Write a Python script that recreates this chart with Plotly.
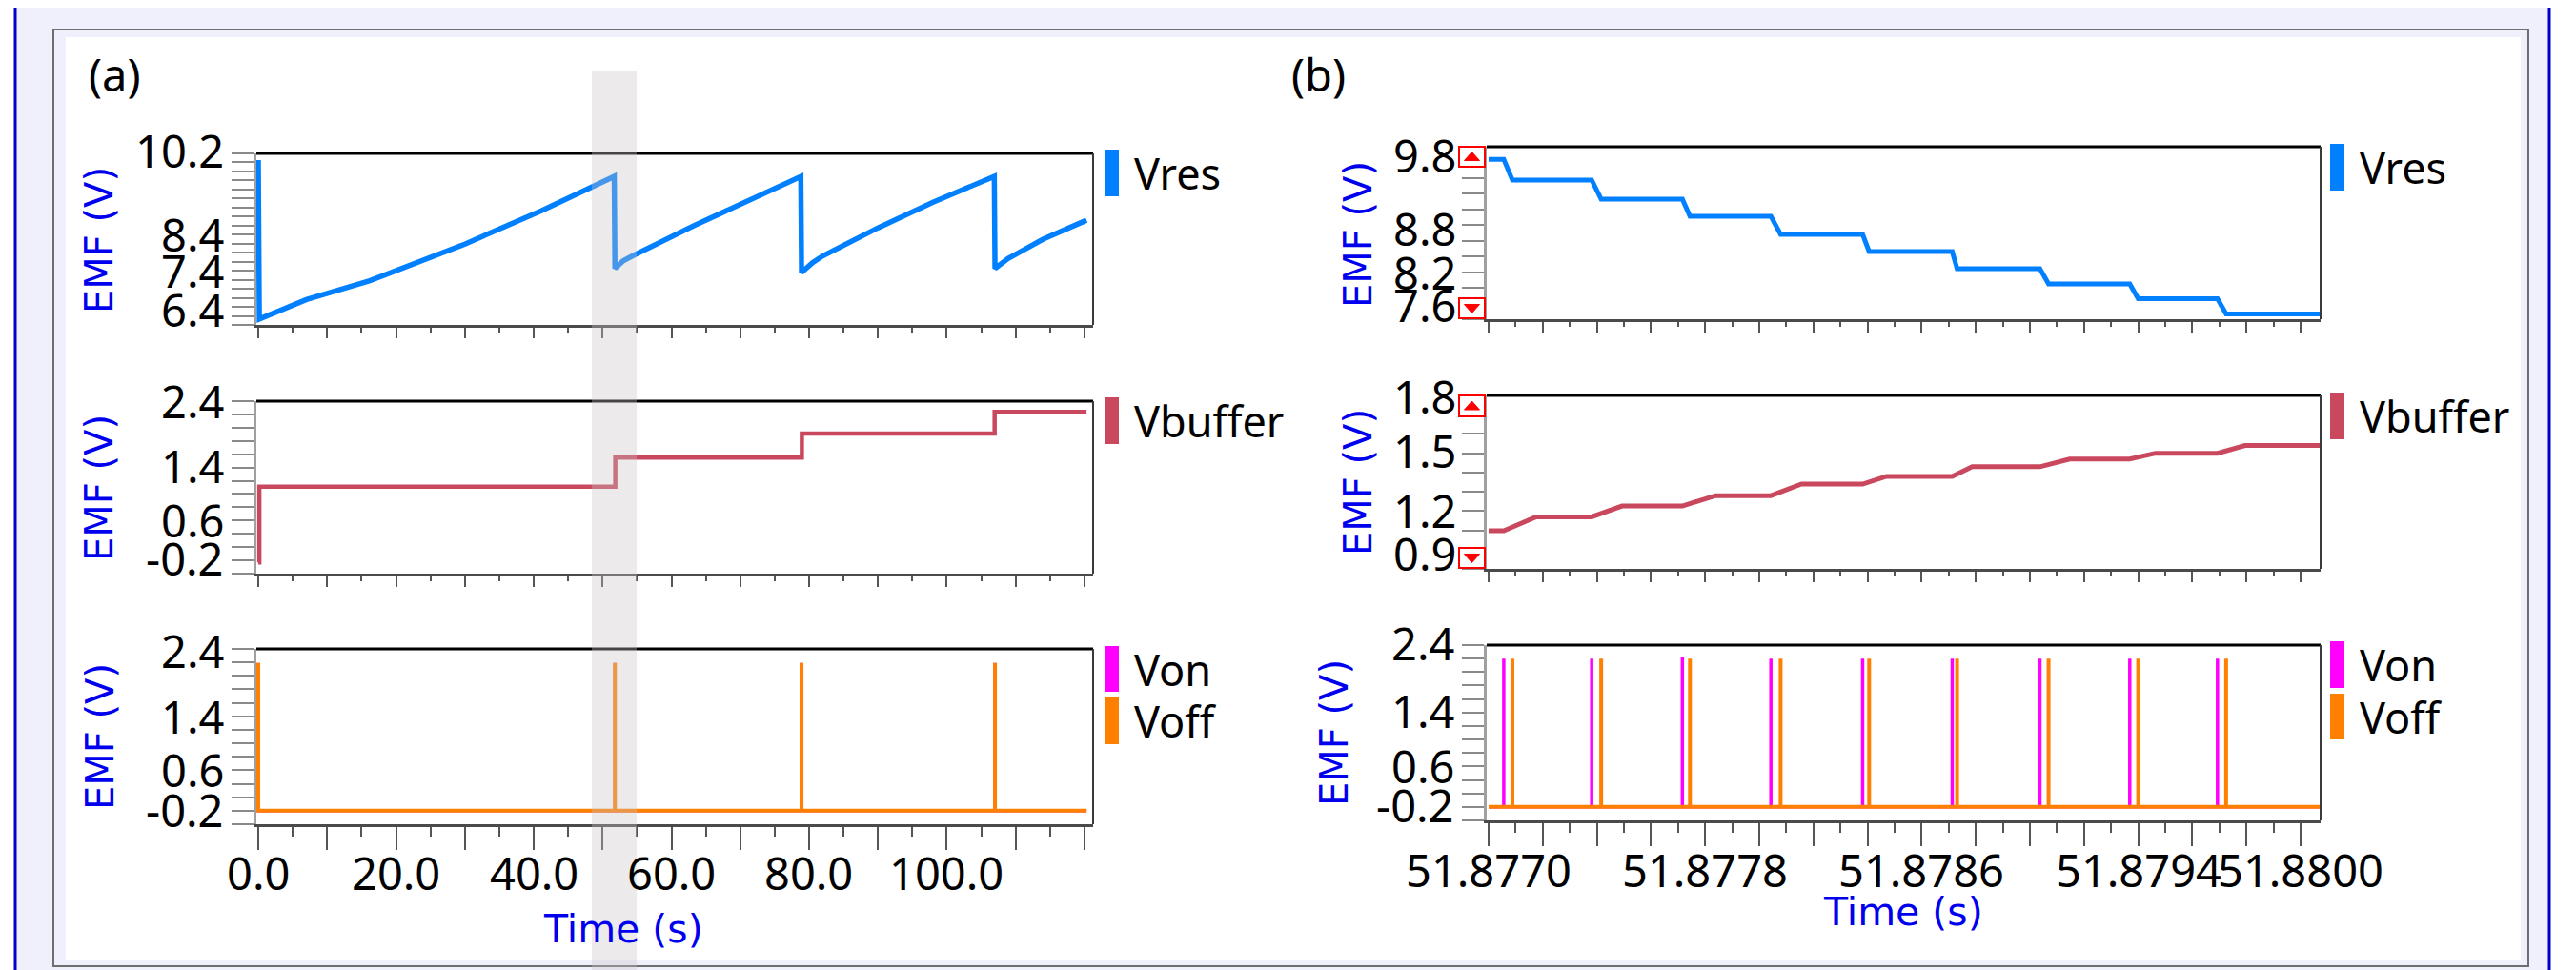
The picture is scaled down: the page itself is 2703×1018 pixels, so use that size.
import plotly.graph_objects as go

W, H = 2703, 1018

# ---------------- DATA ----------------
# Panel (a): whole record (time in s)
t_vres_a = [0.0, 0.15, 7.0, 16.2, 30.0, 41.1, 51.7, 51.8, 53.0, 54.5, 63.3, 71.0, 78.8,
            78.9, 80.5, 82.0, 90.0, 98.0, 106.9, 107.0, 108.9, 114.0, 120.3]
v_vres_a = [10.05, 6.53, 6.96, 7.38, 8.19, 8.93, 9.69, 7.65, 7.82, 7.94, 8.60, 9.15, 9.69,
            7.56, 7.78, 7.93, 8.55, 9.12, 9.69, 7.65, 7.87, 8.30, 8.72]

t_vbuf_a = [0.0, 0.15, 51.85, 78.95, 106.95, 120.3]
v_vbuf_a = [-0.03, 1.11, 1.55, 1.91, 2.24, 2.24]

pulse_t_a = [0.0, 51.8, 78.9, 107.0]
pulse_v_a = [2.19, 2.19, 2.19, 2.19]
t_start_a, t_end_a = 0.0, 120.3
base_level = 0.0

# Panel (b): zoom around the first switching event (time in s)
von_t_b = [51.877056, 51.877381, 51.877716, 51.878043, 51.878382, 51.878713, 51.879037, 51.879369, 51.879693]
von_v_b = [2.2, 2.2, 2.23, 2.2, 2.2, 2.2, 2.2, 2.2, 2.2]
voff_t_b = [51.877088, 51.877416, 51.877744, 51.878079, 51.878406, 51.878731, 51.879069, 51.879400, 51.879725]
voff_v_b = [2.2, 2.2, 2.2, 2.2, 2.2, 2.2, 2.2, 2.2, 2.2]
t_start_b, t_end_b = 51.877000, 51.880074

vres_levels_b = [9.64, 9.375, 9.131, 8.913, 8.682, 8.463, 8.244, 8.050, 7.861, 7.667]
vbuf_levels_b = [1.098, 1.17, 1.226, 1.28, 1.34, 1.38, 1.43, 1.47, 1.50, 1.54]
vbuf_ramp_end_b = [51.877176, 51.877493, 51.877839, 51.878156, 51.878470, 51.878787, 51.879147, 51.879464, 51.879795]

# axis ticks / labels
xt_a_vals = [0, 10, 20, 30, 40, 50, 60, 70, 80, 90, 100, 110, 120]
xl_a = [0.0, 20.0, 40.0, 60.0, 80.0, 100.0]
xt_b_vals = [51.8770, 51.8772, 51.8774, 51.8776, 51.8778, 51.8780, 51.8782, 51.8784,
             51.8786, 51.8788, 51.8790, 51.8792, 51.8794, 51.8796, 51.8798, 51.8800]
xl_b = [51.8770, 51.8778, 51.8786, 51.8794, 51.8800]

yl_a1 = [10.2, 8.4, 7.4, 6.4]
yl_a2 = [2.4, 1.4, 0.6, -0.2]
yl_a3 = [2.4, 1.4, 0.6, -0.2]
yl_b1 = [9.8, 8.8, 8.2, 7.6]
yl_b2 = [1.8, 1.5, 1.2, 0.9]
yl_b3 = [2.4, 1.4, 0.6, -0.2]

C_VRES = "#0080FF"
C_VBUF = "#C9485E"
C_VON = "#FF00FF"
C_VOFF = "#FF8000"
C_BLUE_TXT = "#0000EE"


def px(x):
    return x / W


def py(y):
    return 1 - y / H


def pulses(times, peaks, t0, t1, base):
    xs, ys = [t0], [base]
    for t, p in zip(times, peaks):
        xs += [t, t, t]
        ys += [base, p, base]
    xs.append(t1)
    ys.append(base)
    return xs, ys


def staircase(levels, t_from, t_to, t0, t1):
    xs, ys = [t0], [levels[0]]
    for i in range(len(t_from)):
        xs += [t_from[i], t_to[i]]
        ys += [levels[i], levels[i + 1]]
    xs.append(t1)
    ys.append(levels[-1])
    return xs, ys


fig = go.Figure()

TICKFONT = dict(family="Noto Sans", size=47, color="black")
subs = [
    dict(i=1, xd=(261, 1139), yd=(153, 333), xr=(-0.28, 121.25), yr=(6.4, 10.2), dt=0.2,
         yl=yl_a1, ys=[3, 0, 10, 16], lx=229, bottom=False, panel="a"),
    dict(i=2, xd=(261, 1139), yd=(413, 594), xr=(-0.28, 121.25), yr=(-0.2, 2.4), dt=0.2,
         yl=yl_a2, ys=[0, 2, 0, 16], lx=229, bottom=False, panel="a"),
    dict(i=3, xd=(261, 1139), yd=(673, 857), xr=(-0.28, 121.25), yr=(-0.2, 2.4), dt=0.2,
         yl=yl_a3, ys=[-2, 0, 0, 15], lx=229, bottom=True, panel="a"),
    dict(i=4, xd=(1552, 2427), yd=(146, 327), xr=(51.876993, 51.880074), yr=(7.6, 9.8), dt=0.2,
         yl=yl_b1, ys=[-9, -4, 0, 15], lx=1522, bottom=False, panel="b"),
    dict(i=5, xd=(1552, 2427), yd=(407, 589), xr=(51.876993, 51.880074), yr=(0.9, 1.8), dt=0.1,
         yl=yl_b2, ys=[-1, 3, 0, 16], lx=1522, bottom=False, panel="b"),
    dict(i=6, xd=(1552, 2427), yd=(669, 853), xr=(51.876993, 51.880074), yr=(-0.2, 2.4), dt=0.2,
         yl=yl_b3, ys=[2, 2, 0, 16], lx=1520, bottom=True, panel="b"),
]

annotations = []
shapes = []

for s in subs:
    i = s["i"]
    xk = "xaxis" if i == 1 else f"xaxis{i}"
    yk = "yaxis" if i == 1 else f"yaxis{i}"
    xref = "x" if i == 1 else f"x{i}"
    yref = "y" if i == 1 else f"y{i}"
    big = s["bottom"]
    if s["panel"] == "a":
        tv, mdt, mt0, xl, xfmt, lab_y = xt_a_vals, 5, 0, xl_a, "{:.1f}", 908
    else:
        tv, mdt, mt0, xl, xfmt, lab_y = xt_b_vals, 0.0001, 51.877, xl_b, "{:.4f}", 905
    fig.layout[xk] = dict(
        domain=[px(s["xd"][0]), px(s["xd"][1])], range=list(s["xr"]), anchor=yref,
        showgrid=False, zeroline=False, showline=True, linecolor="#4A4A4A", linewidth=3,
        ticks="outside", ticklen=24 if big else 11, tickwidth=2, tickcolor="#555555",
        tickmode="array", tickvals=tv, showticklabels=False,
        minor=dict(ticks="outside", ticklen=10 if big else 5, tickwidth=2, tickcolor="#555555",
                   dtick=mdt, tick0=mt0, showgrid=False),
        automargin=False, fixedrange=True,
    )
    fig.layout[yk] = dict(
        domain=[py(s["yd"][1]), py(s["yd"][0])], range=list(s["yr"]), anchor=xref,
        showgrid=False, zeroline=False, showline=True, linecolor="#A0A0A0", linewidth=3,
        ticks="outside", ticklen=23, tickwidth=2, tickcolor="#8A8A8A",
        tickmode="linear", tick0=s["yr"][0], dtick=s["dt"], showticklabels=False,
        automargin=False, fixedrange=True,
    )
    shapes.append(dict(type="line", xref=f"{xref} domain", yref=f"{yref} domain",
                       x0=0, x1=1, y0=1, y1=1, line=dict(color="black", width=3), layer="above"))
    shapes.append(dict(type="line", xref=f"{xref} domain", yref=f"{yref} domain",
                       x0=1, x1=1, y0=0, y1=1, line=dict(color="#3A3A3A", width=2), layer="above"))
    # y tick labels (placed on the axis scale)
    for val, sh in zip(s["yl"], s["ys"]):
        annotations.append(dict(xref="paper", yref=yref, x=px(s["lx"]), y=val,
                                xanchor="right", yanchor="middle", yshift=sh, showarrow=False,
                                text=f"{val:.1f}", font=TICKFONT))
    # x tick labels (bottom plot only)
    if big:
        for val in xl:
            annotations.append(dict(xref=xref, yref="paper", x=val, y=py(lab_y),
                                    xanchor="center", yanchor="middle", showarrow=False,
                                    text=xfmt.format(val), font=TICKFONT))

def add(x, y, color, width, xa, ya, shape="linear"):
    fig.add_trace(go.Scatter(x=x, y=y, mode="lines", xaxis=xa, yaxis=ya, hoverinfo="skip",
                             showlegend=False, line=dict(color=color, width=width, shape=shape)))

add(t_vres_a, v_vres_a, C_VRES, 5.5, "x", "y")
add(t_vbuf_a, v_vbuf_a, C_VBUF, 4.5, "x2", "y2", shape="hv")
xo, yo = pulses(pulse_t_a, pulse_v_a, t_start_a, t_end_a, base_level)
add(xo, yo, C_VON, 3.5, "x3", "y3")
add(xo, yo, C_VOFF, 4, "x3", "y3")

xs, ys = staircase(vres_levels_b, von_t_b, voff_t_b, t_start_b, t_end_b)
add(xs, ys, C_VRES, 5, "x4", "y4")
xs, ys = staircase(vbuf_levels_b, von_t_b, vbuf_ramp_end_b, t_start_b, t_end_b)
add(xs, ys, C_VBUF, 5, "x5", "y5")
xs, ys = pulses(von_t_b, von_v_b, t_start_b, t_end_b, base_level)
add(xs, ys, C_VON, 3.5, "x6", "y6")
xs, ys = pulses(voff_t_b, voff_v_b, t_start_b, t_end_b, base_level)
add(xs, ys, C_VOFF, 4, "x6", "y6")

bg = [
    dict(type="rect", xref="paper", yref="paper", x0=px(9), x1=px(2666), y0=py(1015), y1=py(0),
         fillcolor="#F0F0FC", line=dict(width=0), layer="below"),
    dict(type="rect", xref="paper", yref="paper", x0=px(48), x1=px(2645), y0=py(1006), y1=py(23),
         fillcolor="#F0F0FC", line=dict(color="#6E6E6E", width=2), layer="below"),
    dict(type="rect", xref="paper", yref="paper", x0=px(61), x1=px(2637), y0=py(1000), y1=py(31),
         fillcolor="white", line=dict(width=0), layer="below"),
    dict(type="line", xref="paper", yref="paper", x0=px(8), x1=px(8), y0=py(1016), y1=py(0),
         line=dict(color="#0000C8", width=3), layer="below"),
    dict(type="line", xref="paper", yref="paper", x0=px(2667), x1=px(2667), y0=py(1016), y1=py(0),
         line=dict(color="#0000C8", width=3), layer="below"),
    dict(type="line", xref="paper", yref="paper", x0=px(8), x1=px(2667), y0=py(1015), y1=py(1015),
         line=dict(color="#0000C8", width=3), layer="below"),
]
shapes = bg + shapes

def limit_box(x0, y0, x1, y1, up):
    out = [dict(type="rect", xref="paper", yref="paper", x0=px(x0), x1=px(x1), y0=py(y1), y1=py(y0),
                fillcolor="white", line=dict(color="#FF0000", width=2), layer="above")]
    cx, cy = (x0 + x1) / 2, (y0 + y1) / 2
    if up:
        pts = [(cx - 8, cy + 4), (cx + 8, cy + 4), (cx, cy - 5)]
    else:
        pts = [(cx - 8, cy - 4), (cx + 8, cy - 4), (cx, cy + 5)]
    path = "M " + " L ".join(f"{px(a):.5f},{py(b):.5f}" for a, b in pts) + " Z"
    out.append(dict(type="path", xref="paper", yref="paper", path=path,
                    fillcolor="#FF0000", line=dict(color="#FF0000", width=1), layer="above"))
    return out

shapes += limit_box(1523, 146, 1550, 167, True)
shapes += limit_box(1523, 305, 1550, 326, False)
shapes += limit_box(1523, 407, 1550, 429, True)
shapes += limit_box(1523, 567, 1550, 588, False)

shapes.append(dict(type="rect", xref="x", yref="paper", x0=48.44, x1=54.95, y0=0, y1=py(66),
                   fillcolor="#C8C3C3", opacity=0.35, line=dict(width=0), layer="above"))

legend_items = [
    ("Vres", C_VRES, 1151, 149, 198),
    ("Vbuffer", C_VBUF, 1151, 409, 458),
    ("Von", C_VON, 1151, 670, 718),
    ("Voff", C_VOFF, 1151, 724, 773),
    ("Vres", C_VRES, 2437, 143, 192),
    ("Vbuffer", C_VBUF, 2437, 404, 453),
    ("Von", C_VON, 2437, 665, 714),
    ("Voff", C_VOFF, 2437, 720, 768),
]
for txt, col, bx, bt, bb in legend_items:
    shapes.append(dict(type="rect", xref="paper", yref="paper", x0=px(bx), x1=px(bx + 15),
                       y0=py(bb), y1=py(bt), fillcolor=col, line=dict(width=0), layer="above"))
    annotations.append(dict(xref="paper", yref="paper", x=px(bx + 29), y=py((bt + bb) / 2),
                            xanchor="left", yanchor="middle", showarrow=False, text=txt,
                            font=dict(family="Noto Sans", size=45, color="black")))

TITLEFONT = dict(family="DejaVu Sans", size=40, color=C_BLUE_TXT)
for cx, cy in [(96, 244), (96, 504), (97, 765), (1417, 238), (1417, 498), (1392, 761)]:
    annotations.append(dict(xref="paper", yref="paper", x=px(cx), y=py(cy), xanchor="center",
                            yanchor="middle", textangle=-90, showarrow=False, text="EMF (V)",
                            font=TITLEFONT))
for cx, cy in [(646, 967), (1989, 949)]:
    annotations.append(dict(xref="paper", yref="paper", x=px(cx), y=py(cy), xanchor="center",
                            yanchor="middle", showarrow=False, text="Time (s)",
                            font=dict(family="DejaVu Sans", size=41, color=C_BLUE_TXT)))
for txt, lx in [("(a)", 83), ("(b)", 1345)]:
    annotations.append(dict(xref="paper", yref="paper", x=px(lx), y=py(70), xanchor="left",
                            yanchor="middle", showarrow=False, text=txt,
                            font=dict(family="Noto Sans", size=47, color="black")))

fig.update_layout(
    width=W, height=H, margin=dict(l=0, r=0, t=0, b=0, autoexpand=False),
    paper_bgcolor="white", plot_bgcolor="white",
    shapes=shapes, annotations=annotations, showlegend=False,
)

fig.write_html("out.html", config={"displayModeBar": False})
